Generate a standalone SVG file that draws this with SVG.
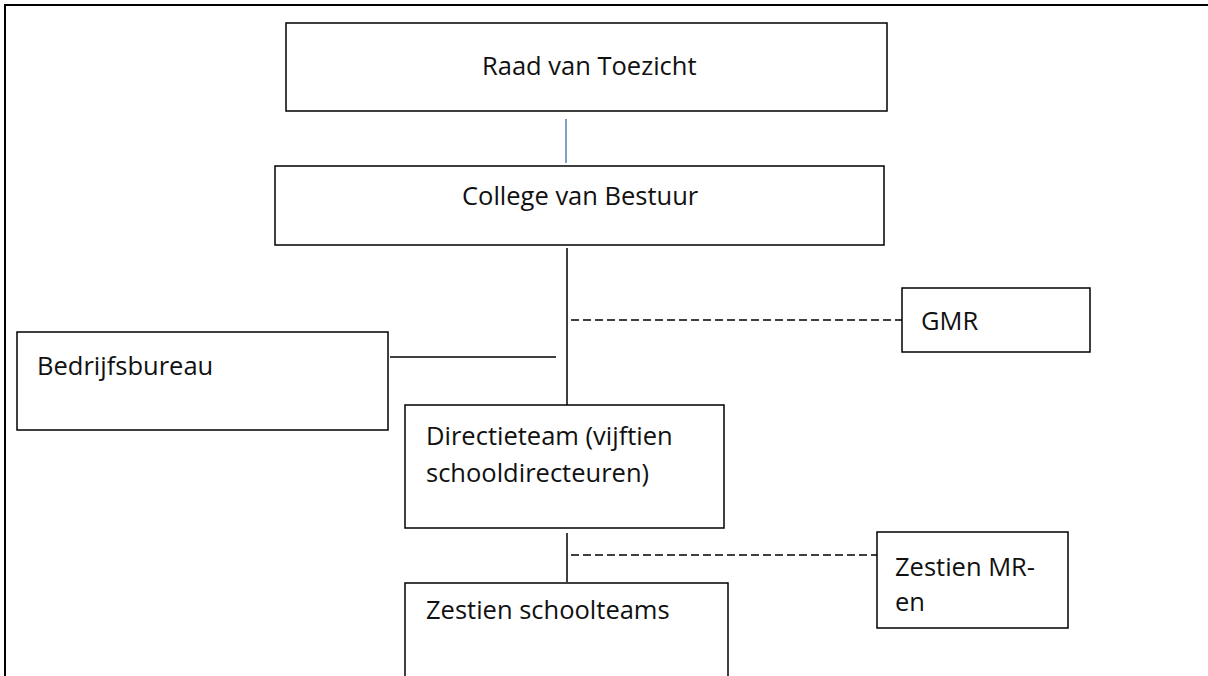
<svg xmlns="http://www.w3.org/2000/svg" width="1208" height="676" viewBox="0 0 1208 676">
  <style>
    .box { fill: #ffffff; stroke: #000000; stroke-width: 1.5; }
    .lbl { font-family: "Open Sans", "Liberation Sans", sans-serif; font-size: 25.5px; fill: #111111; }
    .solid { stroke: #000000; stroke-width: 1.5; fill: none; }
    .dash { stroke: #000000; stroke-width: 1.5; stroke-dasharray: 8 4; fill: none; }
    .blue { stroke: #4f81bd; stroke-width: 1.5; fill: none; }
    .frame { stroke: #000000; stroke-width: 2; fill: none; }
  </style>
  <rect width="1208" height="676" fill="#ffffff"/>
  <g id="frame">
    <line class="frame" x1="4" y1="5" x2="1208" y2="5"/>
    <line class="frame" x1="5" y1="4" x2="5" y2="676"/>
  </g>
  <g id="connectors">
    <line class="blue" x1="566" y1="119" x2="566" y2="163"/>
    <line class="solid" x1="567" y1="248" x2="567" y2="405"/>
    <line class="dash" x1="571" y1="320" x2="902" y2="320"/>
    <line class="solid" x1="390" y1="357" x2="556" y2="357"/>
    <line class="solid" x1="567" y1="533" x2="567" y2="582"/>
    <line class="dash" x1="571" y1="555" x2="877" y2="555"/>
  </g>
  <g id="raad">
    <rect class="box" x="286" y="23" width="601" height="88"/>
    <text class="lbl" x="482" y="75">Raad van Toezicht</text>
  </g>
  <g id="college">
    <rect class="box" x="275" y="166" width="609" height="79"/>
    <text class="lbl" x="462" y="205">College van Bestuur</text>
  </g>
  <g id="gmr">
    <rect class="box" x="902" y="288" width="188" height="64"/>
    <text class="lbl" x="921" y="330">GMR</text>
  </g>
  <g id="bedrijfsbureau">
    <rect class="box" x="17" y="332" width="371" height="98"/>
    <text class="lbl" x="37" y="375">Bedrijfsbureau</text>
  </g>
  <g id="directieteam">
    <rect class="box" x="405" y="405" width="319" height="123"/>
    <text class="lbl" x="426" y="445">Directieteam (vijftien</text>
    <text class="lbl" x="426" y="482">schooldirecteuren)</text>
  </g>
  <g id="zestien-mr">
    <rect class="box" x="877" y="532" width="191" height="96"/>
    <text class="lbl" x="895" y="576">Zestien MR-</text>
    <text class="lbl" x="895" y="611">en</text>
  </g>
  <g id="schoolteams">
    <rect class="box" x="405" y="583" width="323" height="95"/>
    <text class="lbl" x="426" y="619">Zestien schoolteams</text>
  </g>
</svg>
